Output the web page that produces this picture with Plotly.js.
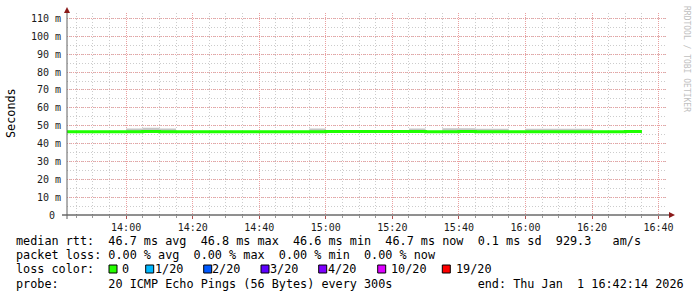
<!DOCTYPE html>
<html>
<head>
<meta charset="utf-8">
<script src="https://cdn.plot.ly/plotly-3.0.1.min.js"></script>
<style>
html,body{margin:0;padding:0;background:#fff;}
#chart{width:697px;height:297px;}
</style>
</head>
<body>
<div id="chart"></div>
<script>
// ---- data ----
const times = [
  '2026-01-01 13:40:00','2026-01-01 13:45:00','2026-01-01 13:50:00','2026-01-01 13:55:00',
  '2026-01-01 14:00:00','2026-01-01 14:05:00','2026-01-01 14:10:00','2026-01-01 14:15:00',
  '2026-01-01 14:20:00','2026-01-01 14:25:00','2026-01-01 14:30:00','2026-01-01 14:35:00',
  '2026-01-01 14:40:00','2026-01-01 14:45:00','2026-01-01 14:50:00','2026-01-01 14:55:00',
  '2026-01-01 15:00:00','2026-01-01 15:05:00','2026-01-01 15:10:00','2026-01-01 15:15:00',
  '2026-01-01 15:20:00','2026-01-01 15:25:00','2026-01-01 15:30:00','2026-01-01 15:35:00',
  '2026-01-01 15:40:00','2026-01-01 15:45:00','2026-01-01 15:50:00','2026-01-01 15:55:00',
  '2026-01-01 16:00:00','2026-01-01 16:05:00','2026-01-01 16:10:00','2026-01-01 16:15:00',
  '2026-01-01 16:20:00','2026-01-01 16:25:00','2026-01-01 16:30:00','2026-01-01 16:35:00'
];
const medianRtt = [
  46.6,46.6,46.6,46.6, 46.6,46.7,46.6,46.6, 46.6,46.6,46.6,46.6, 46.6,46.6,46.6,46.6,
  46.8,46.8,46.8,46.8, 46.8,46.7,46.6,46.6, 46.7,46.6,46.6,46.6, 46.6,46.6,46.6,46.6,
  46.6,46.6,46.7,46.7
];
const smokeMin = [
  46.3,46.3,46.3,46.3, 46.3,46.3,46.3,46.3, 46.3,46.3,46.3,46.3, 46.3,46.3,46.3,46.3,
  46.5,46.5,46.5,46.5, 46.5,46.3,46.3,46.3, 46.3,46.3,46.3,46.3, 46.3,46.3,46.3,46.3,
  46.3,46.3,46.3,46.3
];
const smokeMax = [
  46.9,46.9,46.9,46.9, 48.4,48.9,48.4,46.9, 46.9,46.9,46.9,46.9, 46.9,46.9,46.9,48.4,
  47.1,47.1,47.1,47.1, 47.1,48.4,46.9,48.6, 48.6,48.3,48.3,46.9, 48.3,48.3,48.3,48.3,
  46.9,46.9,46.9,46.9
];
const yTickVals = [0,10,20,30,40,50,60,70,80,90,100,110];
const yTickText = ['0\u00a0','10 m','20 m','30 m','40 m','50 m','60 m','70 m','80 m','90 m','100 m','110 m'];
const xStart = '2026-01-01 13:42:14';
const xEnd = '2026-01-01 16:42:14';

const statLines = [
  {y:241, text:'median rtt:  46.7 ms avg  46.8 ms max  46.6 ms min  46.7 ms now  0.1 ms sd  929.3   am/s'},
  {y:255, text:'packet loss: 0.00 % avg  0.00 % max  0.00 % min  0.00 % now'},
  {y:269, text:'loss color:'},
  {y:284, text:'probe:       20 ICMP Echo Pings (56 Bytes) every 300s            end: Thu Jan  1 16:42:14 2026'}
];
const lossLabels = ['0','1/20','2/20','3/20','4/20','10/20','19/20'];
const lossColors = ['#26ff00','#00b8ff','#0059ff','#5e00ff','#7e00ff','#dd00ff','#ff0000'];
const lossBoxX = [109,145.7,203.7,261,318.7,377.7,442.3];
const lossLabelX = [121.5,154.5,212.3,270,328.3,391,456];

// ---- geometry helpers (pixel -> paper) ----
const L = 67, R = 666, T = 13, B = 215;
const px = v => (v - L) / (R - L);
const py = v => (B - v) / (B - T);

const mono = 'DejaVu Sans Mono, monospace';
const FS = 11.8;

const traces = [
  {x: times, y: smokeMin, type:'scatter', mode:'lines', line:{shape:'hv', width:0, color:'rgba(0,0,0,0)'}, hoverinfo:'skip', showlegend:false},
  {x: times, y: smokeMax, type:'scatter', mode:'lines', line:{shape:'hv', width:0, color:'rgba(0,0,0,0)'}, fill:'tonexty', fillcolor:'#c6c6c6', hoverinfo:'skip', showlegend:false},
  {x: times, y: medianRtt, type:'scatter', mode:'lines', line:{shape:'hv', width:3, color:'#1eff00'}, showlegend:false}
];

const annotations = [];
statLines.forEach(r => {
  annotations.push({xref:'paper', yref:'paper', x:px(16), y:py(r.y), xanchor:'left', yanchor:'middle',
    text:r.text.replace(/ /g,'\u00a0'), showarrow:false, borderpad:0, borderwidth:0,
    font:{family:mono, size:FS, color:'#000'}});
});
const shapes = [];
lossLabels.forEach((lab, i) => {
  const bx = lossBoxX[i];
  shapes.push({type:'rect', xref:'paper', yref:'paper', x0:px(bx), x1:px(bx+8), y0:py(273), y1:py(265),
    fillcolor:lossColors[i], line:{color:'#000', width:1}});
  annotations.push({xref:'paper', yref:'paper', x:px(lossLabelX[i]), y:py(269), xanchor:'left', yanchor:'middle',
    text:lab, showarrow:false, borderpad:0, borderwidth:0, font:{family:mono, size:FS, color:'#000'}});
});
// y axis title
annotations.push({xref:'paper', yref:'paper', x:px(11), y:py(113), xanchor:'center', yanchor:'middle', textangle:-90,
  text:'Seconds', showarrow:false, borderpad:0, borderwidth:0, font:{family:mono, size:FS, color:'#000'}});
// watermark
annotations.push({xref:'paper', yref:'paper', x:px(686), y:py(59), xanchor:'center', yanchor:'middle', textangle:90,
  text:'RRDTOOL / TOBI OETIKER', showarrow:false, borderpad:0, borderwidth:0, font:{family:mono, size:8, color:'#c0c0c0'}});

// axis lines and arrows
shapes.push({type:'line', xref:'paper', yref:'paper', x0:px(62), x1:px(670), y0:py(215), y1:py(215), line:{color:'#202020', width:1}});
shapes.push({type:'line', xref:'paper', yref:'paper', x0:px(67), x1:px(67), y0:py(219), y1:py(10), line:{color:'#606060', width:1}});
shapes.push({type:'path', xref:'paper', yref:'paper',
  path:`M ${px(669)} ${py(212)} L ${px(675)} ${py(215)} L ${px(669)} ${py(218)} Z`, fillcolor:'#8b1a1a', line:{width:0}});
shapes.push({type:'path', xref:'paper', yref:'paper',
  path:`M ${px(64)} ${py(13)} L ${px(67)} ${py(7)} L ${px(70)} ${py(13)} Z`, fillcolor:'#8b1a1a', line:{width:0}});

const layout = {
  width:697, height:297,
  margin:{l:L, r:697-R, t:T, b:297-B, pad:0},
  paper_bgcolor:'#ffffff', plot_bgcolor:'#ffffff',
  showlegend:false,
  xaxis:{type:'date', range:[xStart, xEnd], tick0:'2026-01-01 14:00:00', dtick:1200000, tickformat:'%H:%M',
    showgrid:true, gridcolor:'#eaa0a0', griddash:'1px,1px', gridwidth:1,
    minor:{dtick:300000, tick0:'2026-01-01 14:00:00', showgrid:true, gridcolor:'#cccccc', griddash:'1px,2px', gridwidth:1,
      ticks:'outside', ticklen:2, tickcolor:'#999'},
    showline:false, zeroline:false, ticks:'outside', ticklen:3, tickcolor:'#b05050', ticklabelstandoff:0,
    tickfont:{family:mono, size:10, color:'#1a1a1a'}, fixedrange:true},
  yaxis:{range:[0, 113.1], tickmode:'array', tickvals:yTickVals, ticktext:yTickText,
    showgrid:true, gridcolor:'#eaa0a0', griddash:'1px,1px', gridwidth:1,
    minor:{dtick:5, tick0:0, showgrid:true, gridcolor:'#cccccc', griddash:'1px,2px', gridwidth:1},
    showline:false, zeroline:false, ticks:'', ticklabelstandoff:5,
    tickfont:{family:mono, size:10, color:'#1a1a1a'}, fixedrange:true},
  annotations:annotations,
  shapes:shapes
};
Plotly.newPlot('chart', traces, layout, {staticPlot:true, displayModeBar:false});
</script>
</body>
</html>
